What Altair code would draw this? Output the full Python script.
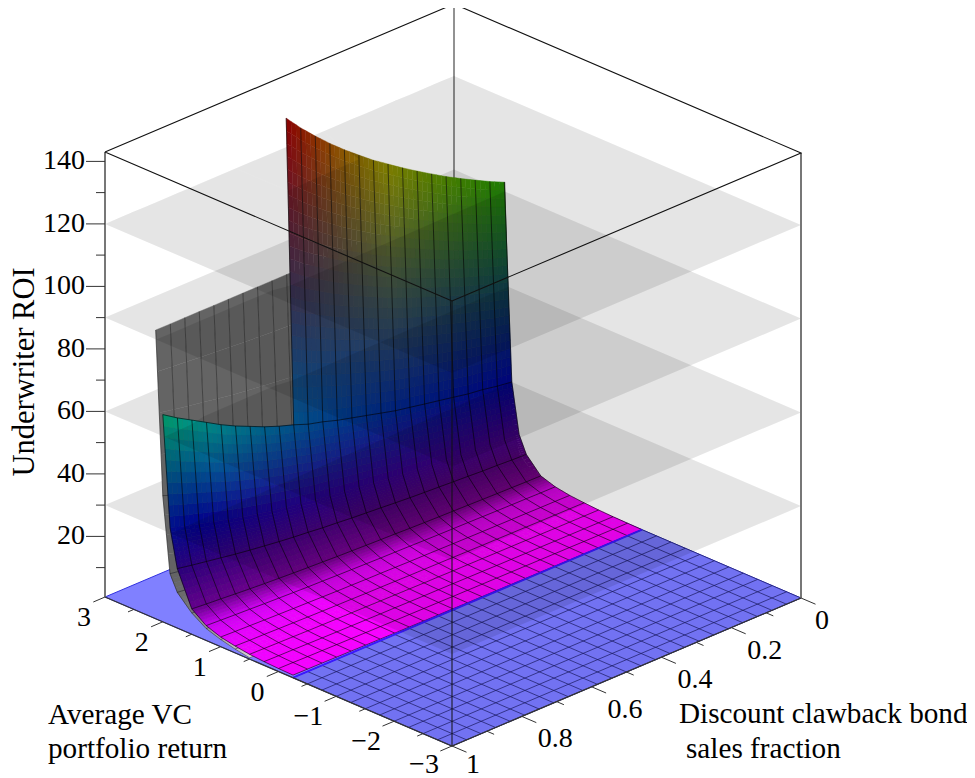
import colorsys
import altair as alt

# ---- values ----
RS = [-0.25, 0, 0.25, 0.5, 0.75, 1.0, 1.25, 1.5, 1.75, 1.875, 2.0, 2.13]
A_F0 = [0.65, 0.7, 0.8, 0.95, 1.25, 1.65, 2.4, 3.9, 8.8, 14.2, 30]
G_F = [1.00, 1.02, 1.05, 1.07, 1.10, 1.13, 1.16, 1.19, 1.22, 1.26, 1.30, 1.34, 1.38,
       1.43, 1.47, 1.53, 1.58, 1.64, 1.71, 1.78, 1.86, 1.95, 2.04, 2.13, 2.23]
TOP_Z = [92.9, 95.1, 97.5, 100, 102.6, 105.4, 108.3, 111.3, 114.5, 117.7, 121.3, 125,
         129, 133.3, 137.9, 143]
TOP_K = 15
UNLINED_R = [1.875]
GRAY_R = [0.5, 0.75, 1.0, 1.25, 1.5, 1.75, 1.876, 2.0, 2.123]
GRAY_Z = [1.0, 1.8, 2.9, 4.4, 7.4, 12, 17, 41, 93]
GRAY_SHADE = [214, 190, 170, 150, 125, 105, 100, 100, 100]
SHADE_R = [-0.25, 1.0, 1.25, 1.5, 1.75, 1.875, 2.0, 2.13]
SHADE_V = [1.0, 1.0, 0.95, 0.55, 0.48, 0.55, 0.6, 0.55]
HUE_Z = [0.6, 143]
HUE_D = [300, 0]
PLANES = [30, 60, 90, 120]
Z_MAJOR = [20, 40, 60, 80, 100, 120, 140]
Z_MINOR = [10, 30, 50, 70, 90, 110, 130]
R_MAJOR = [3, 2, 1, 0, -1, -2, -3]
R_MINOR = [2.5, 1.5, 0.5, -0.5, -1.5, -2.5]
F_MAJOR = [0, 0.2, 0.4, 0.6, 0.8, 1]
F_MINOR = [0.1, 0.3, 0.5, 0.7, 0.9]
FS = [k / 24 for k in range(25)]
BLUE_R = [-3 + 0.25 * i for i in range(12)]
Z0, Z_TOP = 0.6, 143


def pr(r, f, z=Z0):
    x = 452 + (r + 3) / 6 * -347 + (1 - f) * 349
    y = 746 + (r + 3) / 6 * -149 + (1 - f) * -148 - 3.125 * (z - Z0)
    return [round(x, 1), round(y, 1)]


def lerp(xs, ys, x):
    if x <= xs[0]:
        return ys[0]
    for i in range(len(xs) - 1):
        if x <= xs[i + 1]:
            return ys[i] + (ys[i + 1] - ys[i]) * (x - xs[i]) / (xs[i + 1] - xs[i])
    return ys[-1]


def zc(i, k):
    return TOP_Z[k] if i == len(RS) - 1 else A_F0[i] * G_F[k]


def vcol(i, k):
    h = lerp(HUE_Z, HUE_D, zc(i, k)) / 360
    return colorsys.hsv_to_rgb(h, 1, lerp(SHADE_R, SHADE_V, RS[i]))


def hexc(c):
    return "#%02x%02x%02x" % tuple(int(round(a * 255)) for a in c)


def poly(pts, c="#000"):
    return {"type": "Feature", "properties": {"c": c},
            "geometry": {"type": "Polygon", "coordinates": [pts + [pts[0]]]}}


def line(pts):
    return {"type": "Feature", "properties": {},
            "geometry": {"type": "LineString", "coordinates": pts}}


# ---- coloured surface, each cell shaded between its corner colours ----
TOP_ROW = len(RS) - 2
cells = []
for i in range(TOP_ROW, -1, -1):
    nr = 24 if i == TOP_ROW else 10 if i >= TOP_ROW - 2 else 6 if i >= 5 else 3
    nk = TOP_K if i == TOP_ROW else 24
    for k in range(nk):
        c00, c10, c01, c11 = vcol(i, k), vcol(i + 1, k), vcol(i, k + 1), vcol(i + 1, k + 1)
        for a in range(nr):
            for b in range(3):
                def P(u, w):
                    r = RS[i] + (RS[i + 1] - RS[i]) * u
                    f = FS[k] + (FS[k + 1] - FS[k]) * w
                    z = ((1 - u) * (1 - w) * zc(i, k) + u * (1 - w) * zc(i + 1, k)
                         + (1 - u) * w * zc(i, k + 1) + u * w * zc(i + 1, k + 1))
                    return r, f, z
                u0, u1, w0, w1 = a / nr, (a + 1) / nr, b / 3, (b + 1) / 3
                um, wm = (u0 + u1) / 2, (w0 + w1) / 2
                col = [(1 - um) * (1 - wm) * c00[n] + um * (1 - wm) * c10[n]
                       + (1 - um) * wm * c01[n] + um * wm * c11[n] for n in range(3)]
                corners = [P(u0, w0), P(u1, w0), P(u1, w1), P(u0, w1)]
                cells.append(poly([pr(*p) for p in corners], hexc(col)))

surf_lines = []
for k in range(25):
    top = len(RS) if k <= TOP_K else len(RS) - 1
    surf_lines.append(line([pr(RS[i], FS[k], zc(i, k)) for i in range(top)]))
for i in range(len(RS) - 1):
    if RS[i] not in UNLINED_R:
        surf_lines.append(line([pr(RS[i], FS[k], zc(i, k)) for k in range(25)]))


# ---- gray surface behind ----
def zg(i, k):
    if i == len(GRAY_R) - 1:
        return GRAY_Z[i]
    return GRAY_Z[i] * G_F[k] / G_F[-1]


gray_cells = []
for i in range(len(GRAY_R) - 2, -1, -1):
    for a in range(4):
        u0, u1 = a / 4, (a + 1) / 4
        r0 = GRAY_R[i] + (GRAY_R[i + 1] - GRAY_R[i]) * u0
        r1 = GRAY_R[i] + (GRAY_R[i + 1] - GRAY_R[i]) * u1
        g = int(lerp(GRAY_R, GRAY_SHADE, (r0 + r1) / 2))
        col = "#%02x%02x%02x" % (g, g, g)
        for k in range(24):
            z = [zg(i, k) + (zg(i + 1, k) - zg(i, k)) * u0,
                 zg(i, k) + (zg(i + 1, k) - zg(i, k)) * u1,
                 zg(i, k + 1) + (zg(i + 1, k + 1) - zg(i, k + 1)) * u1,
                 zg(i, k + 1) + (zg(i + 1, k + 1) - zg(i, k + 1)) * u0]
            gray_cells.append(poly([pr(r0, FS[k], z[0]), pr(r1, FS[k], z[1]),
                                    pr(r1, FS[k + 1], z[2]), pr(r0, FS[k + 1], z[3])], col))
gray_lines = [line([pr(GRAY_R[i], FS[k], zg(i, k)) for i in range(len(GRAY_R))])
              for k in range(25)]
gray_lines += [line([pr(GRAY_R[i], FS[k], zg(i, k)) for k in range(25)])
               for i in range(len(GRAY_R) - 1)]


# ---- translucent planes split at the surface ----
def contour(L, k):
    top = len(RS) if k <= TOP_K else len(RS) - 1
    for i in range(top - 1):
        a, b = zc(i, k), zc(i + 1, k)
        if a <= L <= b:
            return RS[i] + (RS[i + 1] - RS[i]) * (L - a) / (b - a)
    if L <= GRAY_Z[-1]:
        return lerp([zg(i, k) for i in range(len(GRAY_R))], GRAY_R, L)
    return 3.0


front_planes, back_planes = [], []
for L in PLANES:
    edge = []
    for k in range(25):
        rc = contour(L, k)
        if k and rc == 3.0 and edge[-1][0] != 3.0:
            edge.append((3.0, FS[k - 1]))
        edge.append((rc, FS[k]))
    front = [pr(-3, 0, L), pr(-3, 1, L)] + [pr(r, f, L) for r, f in reversed(edge)]
    back = [pr(3, 0, L), pr(3, 1, L)] + [pr(r, f, L) for r, f in reversed(edge)]
    front_planes.append(poly(front))
    back_planes.append(poly(back))

# ---- floor ----
floor = [poly([pr(-3, 0), pr(-3, 1), pr(3, 1), pr(3, 0)], "#8080ff")]
blue_part = [poly([pr(-3, 0), pr(-3, 1), pr(RS[0], 1), pr(RS[0], 0)], "#7272f2")]
blue_lines = [line([pr(r, 0), pr(r, 1)]) for r in BLUE_R]
blue_lines += [line([pr(-3, f), pr(RS[0], f)]) for f in FS]
boundary = [line([pr(RS[0], 0), pr(RS[0], 1)])]

# ---- box and ticks ----
tl, tb, tr, tf = pr(3, 1, Z_TOP), pr(3, 0, Z_TOP), pr(-3, 0, Z_TOP), pr(-3, 1, Z_TOP)
bl, bb, br, bf = pr(3, 1), pr(3, 0), pr(-3, 0), pr(-3, 1)
box_thin = [line([tl, tb, tr, tf, tl])]
edge_front = [line([tf, bf])]
edge_side = [line([tl, bl]), line([tr, br])]
edge_back = [line([tb, bb])]
axis_lines = [line([bl, bf, br])]
ticks = []
for r in R_MAJOR:
    ticks.append(line([pr(r, 1), pr(r, 1.0335)]))
for r in R_MINOR:
    ticks.append(line([pr(r, 1), pr(r, 1.017)]))
for f in F_MAJOR:
    ticks.append(line([pr(-3, f), pr(-3.25, f)]))
for f in F_MINOR:
    ticks.append(line([pr(-3, f), pr(-3.125, f)]))
for z in Z_MAJOR:
    p = pr(3, 1, z)
    ticks.append(line([p, [p[0] - 19, p[1]]]))
for z in Z_MINOR:
    p = pr(3, 1, z)
    ticks.append(line([p, [p[0] - 9, p[1]]]))

# ---- text ----
z_text = []
for z in Z_MAJOR:
    p = pr(3, 1, z)
    z_text.append({"lon": p[0] - 20, "lat": p[1], "t": str(z)})
c_text = []
for r in R_MAJOR:
    p = pr(r, 1)
    dx = -21 if r >= 0 else -28
    dy = 19 if r == -3 else 21
    c_text.append({"lon": p[0] + dx, "lat": p[1] + dy, "t": str(r).replace("-", "\u2212")})
for f in F_MAJOR:
    p = pr(-3, f)
    dx = 21 if f in (0, 1) else 33.5
    dy = 19 if f == 1 else 23
    c_text.append({"lon": p[0] + dx, "lat": p[1] + dy, "t": str(f)})
title_text = [
    {"lon": 48, "lat": 715, "t": "Average VC"},
    {"lon": 48, "lat": 749, "t": "portfolio return"},
    {"lon": 679, "lat": 714, "t": "Discount clawback bond"},
    {"lon": 686, "lat": 749, "t": "sales fraction"},
]
y_title = [{"lon": 25, "lat": 372, "t": "Underwriter ROI"}]

PROJ = dict(type="identity", scale=1, translate=[-8, -8])
FONT = "Liberation Serif"


def fills(features, **kw):
    return (alt.Chart(alt.Data(values=features))
            .mark_geoshape(**kw)
            .encode(fill=alt.Fill("properties.c:N", scale=None),
                    stroke=alt.Stroke("properties.c:N", scale=None))
            .project(**PROJ))


def plain(features, **kw):
    return alt.Chart(alt.Data(values=features)).mark_geoshape(**kw).project(**PROJ)


def texts(rows, **kw):
    return (alt.Chart(alt.Data(values=rows))
            .mark_text(font=FONT, color="black", **kw)
            .encode(longitude="lon:Q", latitude="lat:Q", text="t:N")
            .project(**PROJ))


layers = [
    plain(floor, fill="#8080ff", stroke="#3030e0", strokeWidth=1),
    plain(edge_back, filled=False, stroke="#6e6e6e", strokeWidth=1.5),
    plain(back_planes, fill="black", fillOpacity=0.1, strokeWidth=0),
    fills(gray_cells, strokeWidth=0.4),
    plain(gray_lines, filled=False, stroke="black", strokeOpacity=0.5, strokeWidth=0.8),
    plain(blue_part, fill="#7272f2", strokeWidth=0),
    fills(cells, strokeWidth=0.4),
    plain(surf_lines, filled=False, stroke="black", strokeOpacity=0.65, strokeWidth=0.9),
    plain(blue_lines, filled=False, stroke="#1a1a60", strokeOpacity=0.8, strokeWidth=0.9),
    plain(boundary, filled=False, stroke="#3a18ff", strokeWidth=2),
    plain(front_planes, fill="black", fillOpacity=0.1, strokeWidth=0),
    plain(edge_side, filled=False, stroke="#777777", strokeWidth=2),
    plain(box_thin, filled=False, stroke="#111111", strokeWidth=1.1),
    plain(edge_front, filled=False, stroke="#111111", strokeWidth=1),
    plain(axis_lines, filled=False, stroke="#333333", strokeWidth=1.2),
    plain(ticks, filled=False, stroke="#333333", strokeWidth=1),
    texts(z_text, fontSize=28, align="right", baseline="middle"),
    texts(c_text, fontSize=28, align="center", baseline="middle"),
    texts(title_text, fontSize=29.2, align="left", baseline="middle"),
    texts(y_title, fontSize=30.5, align="center", baseline="middle", angle=270),
]

chart = (alt.layer(*layers)
         .properties(width=959, height=780, padding=0,
                     autosize=alt.AutoSizeParams(type="none"))
         .configure_view(stroke=None))
chart.save("out.html", embed_options={"renderer": "svg", "actions": False})
